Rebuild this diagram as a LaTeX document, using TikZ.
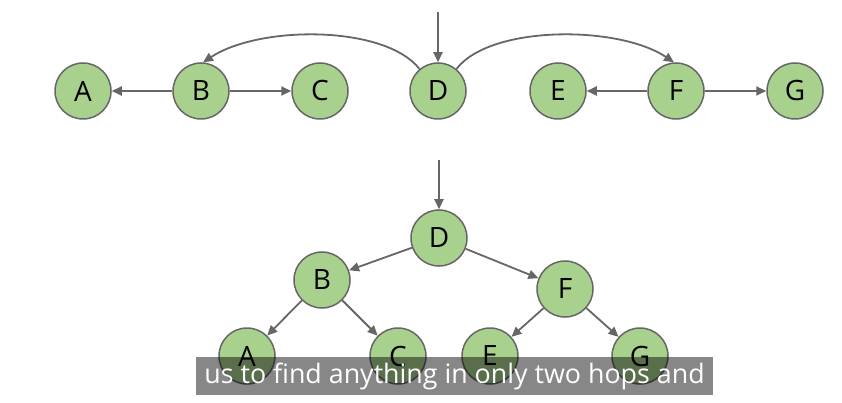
\documentclass[tikz,border=0pt]{standalone}
\usepackage{fontspec}
\setmainfont{Open Sans}
\usetikzlibrary{arrows.meta}
\definecolor{nodefill}{HTML}{A9D18E}
\definecolor{edgegray}{HTML}{666666}
\begin{document}
\begin{tikzpicture}[x=1pt,y=-1pt,
  vert/.style={circle,draw=edgegray,line width=1.5pt,fill=nodefill,minimum size=56pt,inner sep=0pt,font=\fontsize{28}{28}\selectfont},
  link/.style={draw=edgegray,line width=1.8pt,-{Triangle[length=10pt,width=9pt]}},
  caption/.style={fill=black,fill opacity=0.47,text opacity=1,text=white,minimum width=517pt,minimum height=38pt,inner sep=0pt,font=\fontsize{26.8}{26.8}\selectfont}]
\useasboundingbox (0,0) rectangle (842,403);
% top row
\node[vert] (tA) at (83,91) {A};
\node[vert] (tB) at (201,91) {B};
\node[vert] (tC) at (320,91) {C};
\node[vert] (tD) at (438,91) {D};
\node[vert] (tE) at (558,91) {E};
\node[vert] (tF) at (676,91) {F};
\node[vert] (tG) at (795,91) {G};
\coordinate (tin) at (438,12);
\draw[link] (tin) -- (tD);
\draw[link] (tB) -- (tA);
\draw[link] (tB) -- (tC);
\draw[link] (tF) -- (tE);
\draw[link] (tF) -- (tG);
\draw[link] (tD.130) .. controls (385,25) and (260,25) .. (tB.86);
\draw[link] (tD.50) .. controls (490,25) and (618,25) .. (tF.94);
% bottom tree
\node[vert] (bD) at (439,238) {D};
\node[vert] (bB) at (322,280) {B};
\node[vert] (bF) at (565,289) {F};
\node[vert] (bA) at (247,356) {A};
\node[vert] (bC) at (398,356) {C};
\node[vert] (bE) at (490,356) {E};
\node[vert] (bG) at (640,356) {G};
\coordinate (bin) at (439,160);
\draw[link] (bin) -- (bD);
\draw[link] (bD) -- (bB);
\draw[link] (bD) -- (bF);
\draw[link] (bB) -- (bA);
\draw[link] (bB) -- (bC);
\draw[link] (bF) -- (bE);
\draw[link] (bF) -- (bG);
% subtitle
\node[caption] (sub) at (454.5,376) {us to find anything in only two hops and};
\end{tikzpicture}
\end{document}
